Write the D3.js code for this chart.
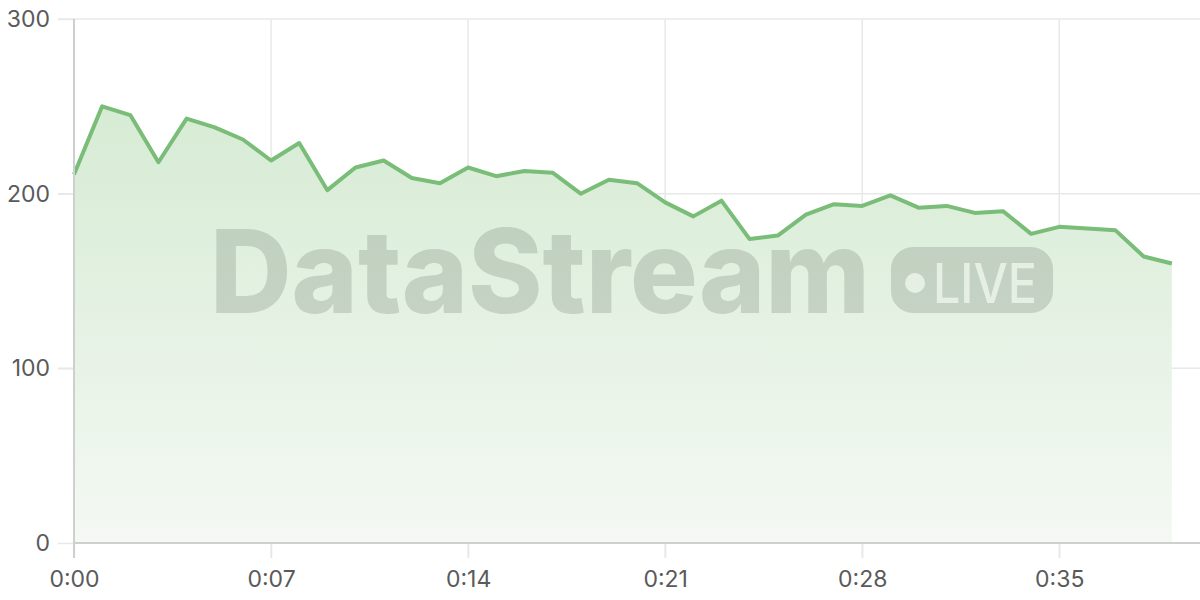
<!DOCTYPE html>
<html>
<head>
<meta charset="utf-8">
<script src="https://cdn.jsdelivr.net/npm/d3@7"></script>
<style>
  html, body { margin: 0; padding: 0; background: #fff; }
  svg { display: block; font-family: Inter, "Noto Sans", sans-serif; }
</style>
</head>
<body>
<svg id="chart" width="1200" height="600"></svg>
<script>
// seconds since start
const seconds = d3.range(0, 40);
// sampled values, one per second
const values = [
  211, 250, 245, 218, 243, 238, 231, 219, 229, 202,
  215, 219, 209, 206, 215, 210, 213, 212, 200, 208,
  206, 195, 187, 196, 174, 176, 188, 194, 193, 199,
  192, 193, 189, 190, 177, 181, 180, 179, 164, 160
];
const xTicks = [0, 7, 14, 21, 28, 35];
const yTicks = [0, 100, 200, 300];

const W = 1200, H = 600;
const margin = { top: 19, right: 0, bottom: 57, left: 74 };

const svg = d3.select("#chart");

const x = d3.scaleLinear().domain([0, 40]).range([margin.left, W - margin.right]);
const y = d3.scaleLinear().domain([0, 300]).range([H - margin.bottom, margin.top]);

const fmt = (s) => `${Math.floor(s / 60)}:${String(s % 60).padStart(2, "0")}`;

const defs = svg.append("defs");
const grad = defs.append("linearGradient")
  .attr("id", "fillGrad")
  .attr("x1", 0).attr("y1", 0).attr("x2", 0).attr("y2", 1);
grad.append("stop").attr("offset", "0%").attr("stop-color", "#d6ebd4");
grad.append("stop").attr("offset", "100%").attr("stop-color", "#f4f9f3");

// grid lines
svg.append("g")
  .selectAll("line")
  .data(yTicks.filter((d) => d > 0))
  .join("line")
  .attr("x1", margin.left - 16)
  .attr("x2", W)
  .attr("y1", (d) => y(d))
  .attr("y2", (d) => y(d))
  .attr("stroke", "#e8e8e8")
  .attr("stroke-width", 1.5);

svg.append("g")
  .selectAll("line")
  .data(xTicks.filter((d) => d > 0))
  .join("line")
  .attr("x1", (d) => x(d))
  .attr("x2", (d) => x(d))
  .attr("y1", margin.top)
  .attr("y2", y(0) + 15)
  .attr("stroke", "#e8e8e8")
  .attr("stroke-width", 1.5);

// area + line
const pts = seconds.map((s, i) => [s, values[i]]);

svg.append("path")
  .datum(pts)
  .attr("fill", "url(#fillGrad)")
  .attr("d", d3.area().x((d) => x(d[0])).y0(y(0)).y1((d) => y(d[1])));

// watermark
const wm = svg.append("g");
wm.append("text")
  .attr("x", 210)
  .attr("y", 313)
  .attr("textLength", 660)
  .attr("lengthAdjust", "spacingAndGlyphs")
  .attr("font-size", 116)
  .attr("font-weight", 800)
  .attr("fill", "#7d8b7d")
  .attr("fill-opacity", 0.3)
  .text("DataStream");

const badge = wm.append("g");
badge.append("rect")
  .attr("x", 891).attr("y", 247)
  .attr("width", 162).attr("height", 66)
  .attr("rx", 22)
  .attr("fill", "#7d8b7d")
  .attr("fill-opacity", 0.3);
badge.append("circle")
  .attr("cx", 915).attr("cy", 283).attr("r", 10)
  .attr("fill", "#e6efe4");
badge.append("text")
  .attr("x", 933).attr("y", 303)
  .attr("textLength", 104)
  .attr("lengthAdjust", "spacingAndGlyphs")
  .attr("font-size", 55)
  .attr("font-weight", 500)
  .attr("fill", "#e6efe4")
  .text("LIVE");

svg.append("path")
  .datum(pts)
  .attr("fill", "none")
  .attr("stroke", "#79bd78")
  .attr("stroke-width", 4)
  .attr("stroke-linejoin", "round")
  .attr("d", d3.line().x((d) => x(d[0])).y((d) => y(d[1])));

// axes
const yAxis = svg.append("g")
  .attr("transform", `translate(${margin.left},0)`)
  .call(d3.axisLeft(y).tickValues(yTicks).tickSize(16).tickPadding(8));
yAxis.select(".domain").remove();
yAxis.selectAll(".tick line").attr("stroke", "#e8e8e8").attr("stroke-width", 1.5);
yAxis.selectAll(".tick text")
  .attr("font-size", 23)
  .attr("fill", "#5a5a5a")
  .attr("font-family", "Inter, sans-serif");

const xAxis = svg.append("g")
  .attr("transform", `translate(0,${y(0)})`)
  .call(d3.axisBottom(x).tickValues(xTicks).tickFormat(fmt).tickSize(15).tickPadding(13));
xAxis.select(".domain").remove();
xAxis.selectAll(".tick line").attr("stroke", "#e8e8e8").attr("stroke-width", 1.5);
xAxis.selectAll(".tick text")
  .attr("font-size", 23)
  .attr("fill", "#5a5a5a")
  .attr("font-family", "Inter, sans-serif");

// axis lines
svg.append("line")
  .attr("x1", margin.left).attr("x2", W)
  .attr("y1", y(0)).attr("y2", y(0))
  .attr("stroke", "#cfcfcf").attr("stroke-width", 2);
svg.append("line")
  .attr("x1", margin.left).attr("x2", margin.left)
  .attr("y1", margin.top).attr("y2", y(0) + 15)
  .attr("stroke", "#cfcfcf").attr("stroke-width", 2);
</script>
</body>
</html>
